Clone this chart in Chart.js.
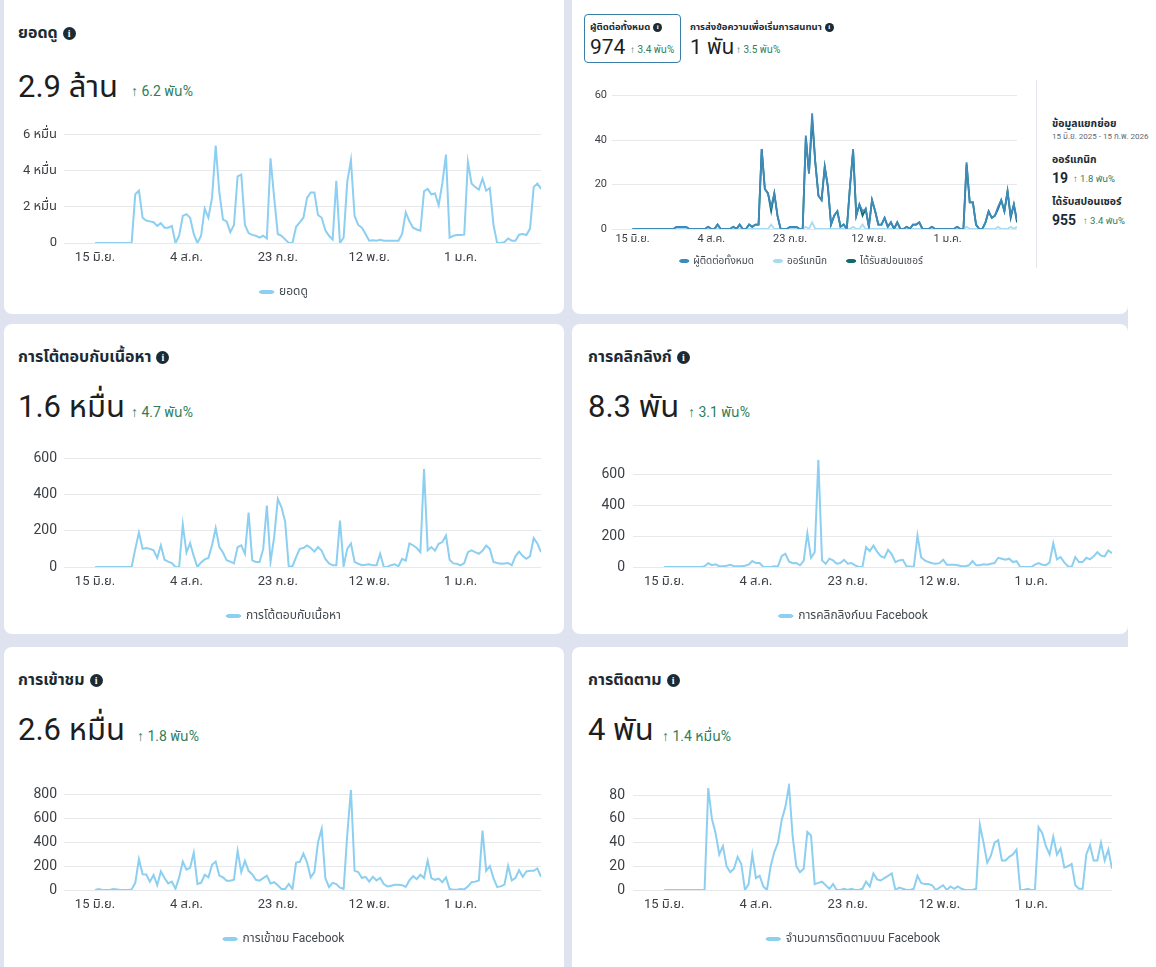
<!DOCTYPE html>
<html lang="th">
<head>
<meta charset="utf-8">
<title>Insights</title>
<script src="https://cdn.jsdelivr.net/npm/chart.js@4.4.1/dist/chart.umd.min.js"></script>
<style>
  html, body { margin: 0; padding: 0; }
  body { width: 1156px; height: 967px; position: relative; overflow: hidden; background: #dfe3ef;
         font-family: Roboto, "Noto Sans Thai", "Noto Sans", sans-serif; color: #1c2b33; }
  .card { position: absolute; background: #fff; border-radius: 8px; }
  .strip { position: absolute; left: 1128px; top: 0; width: 28px; height: 967px; background: #fff; }
  .t { position: absolute; white-space: nowrap; }
  .title { font-size: 16px; font-weight: 700; line-height: 22px; }
  .big { font-size: 31px; line-height: 36px; color: #1c1e21; }
  .up { font-size: 14px; line-height: 18px; color: #2e7d5c; }
  .i { display: inline-block; width: 13px; height: 13px; border-radius: 50%; background: #1c2b33; color: #fff;
       font: bold 10px/13px Georgia, serif; text-align: center; margin-left: 5px; vertical-align: 1px; }
  .sm .i { width: 9px; height: 9px; font-size: 7px; line-height: 9px; margin-left: 3px; }
  .tile { position: absolute; left: 584px; top: 14px; width: 97px; height: 49px; box-sizing: border-box;
          border: 1px solid #3b7ea8; border-radius: 4px; }
  .stitle { font-size: 9.5px; font-weight: 700; line-height: 14px; }
  .snum { font-size: 21px; line-height: 24px; color: #1c1e21; }
  .sup { font-size: 10px; line-height: 12px; color: #2e7d5c; }
  .divider { position: absolute; left: 1036px; top: 80px; width: 1px; height: 188px; background: #e4e6eb; }
  .bd { font-size: 10.5px; font-weight: 700; line-height: 14px; }
  .bdate { font-size: 8px; line-height: 12px; color: #65676b; }
  .bnum { font-size: 14px; font-weight: 700; line-height: 18px; }
  .bup { font-size: 9.5px; line-height: 12px; color: #2e7d5c; }
  canvas { position: absolute; }
</style>
</head>
<body>
<div class="card" style="left:4px;top:-10px;width:560px;height:324px"></div>
<div class="card" style="left:572px;top:-10px;width:556px;height:324px"></div>
<div class="card" style="left:4px;top:324px;width:560px;height:310px"></div>
<div class="card" style="left:572px;top:324px;width:556px;height:310px"></div>
<div class="card" style="left:4px;top:647px;width:560px;height:330px"></div>
<div class="card" style="left:572px;top:647px;width:600px;height:330px"></div>
<div class="strip"></div>

<!-- top left -->
<div class="t title" style="left:18px;top:22px">ยอดดู<span class="i">i</span></div>
<div class="t big" style="left:18px;top:69px">2.9 ล้าน</div>
<div class="t up" style="left:131px;top:82px">↑ 6.2 พัน%</div>

<!-- top right -->
<div class="tile"></div>
<div class="t stitle sm" style="left:590px;top:20px">ผู้ติดต่อทั้งหมด<span class="i">i</span></div>
<div class="t snum" style="left:590px;top:35px">974</div>
<div class="t sup" style="left:630px;top:44px">↑ 3.4 พัน%</div>
<div class="t stitle sm" style="left:690px;top:20px">การส่งข้อความเพื่อเริ่มการสนทนา<span class="i">i</span></div>
<div class="t snum" style="left:690px;top:35px">1 พัน</div>
<div class="t sup" style="left:736px;top:44px">↑ 3.5 พัน%</div>
<div class="divider"></div>
<div class="t bd" style="left:1052px;top:117px">ข้อมูลแยกย่อย</div>
<div class="t bdate" style="left:1052px;top:131px">15 มิ.ย. 2025 - 15 ก.พ. 2026</div>
<div class="t bd" style="left:1052px;top:153px">ออร์แกนิก</div>
<div class="t bnum" style="left:1052px;top:169px">19</div>
<div class="t bup" style="left:1073px;top:173px">↑ 1.8 พัน%</div>
<div class="t bd" style="left:1052px;top:195px">ได้รับสปอนเซอร์</div>
<div class="t bnum" style="left:1052px;top:211px">955</div>
<div class="t bup" style="left:1083px;top:215px">↑ 3.4 พัน%</div>

<!-- middle -->
<div class="t title" style="left:18px;top:346px">การโต้ตอบกับเนื้อหา<span class="i">i</span></div>
<div class="t big" style="left:18px;top:389px">1.6 หมื่น</div>
<div class="t up" style="left:131px;top:403px">↑ 4.7 พัน%</div>
<div class="t title" style="left:588px;top:346px">การคลิกลิงก์<span class="i">i</span></div>
<div class="t big" style="left:588px;top:389px">8.3 พัน</div>
<div class="t up" style="left:688px;top:403px">↑ 3.1 พัน%</div>

<!-- bottom -->
<div class="t title" style="left:18px;top:669px">การเข้าชม<span class="i">i</span></div>
<div class="t big" style="left:18px;top:712px">2.6 หมื่น</div>
<div class="t up" style="left:137px;top:727px">↑ 1.8 พัน%</div>
<div class="t title" style="left:588px;top:669px">การติดตาม<span class="i">i</span></div>
<div class="t big" style="left:588px;top:712px">4 พัน</div>
<div class="t up" style="left:662px;top:727px">↑ 1.4 หมื่น%</div>

<script>
// one point every 2 days, 15 Jun 2025 (day 0) .. 14 Feb 2026 (day 244)
const days = Array.from({ length: 123 }, (_, i) => i * 2);
const xTickDays = [0, 50, 100, 150, 200];
const xTickLabels = ['15 มิ.ย.', '4 ส.ค.', '23 ก.ย.', '12 พ.ย.', '1 ม.ค.'];

const views = [
  0, 0, 0, 0, 0, 0, 0, 0, 0, 0, 0,
  27000, 29000, 14000, 12500, 12000, 11500, 9500, 11000, 8500, 8500,
  9500, 0, 4000, 15000, 16000, 14000, 5000, 0, 4000, 19000,
  14000, 25000, 54000, 28000, 13000, 12000, 6000, 10000, 37000, 38000,
  10000, 5500, 4500, 4000, 3000, 4000, 2500, 47000, 25000, 5000,
  4000, 2000, 0, 0, 9000, 11500, 14000, 25000, 28000, 28000,
  15500, 14000, 7000, 4000, 2000, 34500, 0, 3000, 34000, 46000,
  15000, 10000, 8500, 5000, 1300, 1500, 1300, 1800, 1300, 1300,
  1300, 1300, 1300, 5000, 17000, 12000, 8500, 7500, 6800, 28700,
  30000, 27000, 27500, 21000, 33000, 49000, 3000, 4000, 4400, 4400,
  4600, 45000, 33000, 31000, 29600, 35600, 29000, 30500, 10000, 0,
  0, 500, 2500, 1300, 1300, 4600, 5000, 4400, 8000, 31000,
  33000, 30000
];

const contactsTotal = [
  0, 0, 0, 0, 0, 0, 0, 0, 0, 0, 0, 0, 0, 0,
  1, 1, 1, 1, 0, 0, 0, 0, 0, 0,
  1, 0, 0, 2, 0, 0, 0, 0, 1, 0,
  2, 0, 0, 2, 1, 2, 2, 36, 18, 16,
  10, 16, 6, 0, 0, 0, 1, 1, 1, 0,
  0, 42, 25, 52, 30, 15, 13, 28, 19, 2,
  6, 8, 1, 2, 0, 19, 36, 6, 11, 8,
  9, 1, 13, 8, 2, 2, 5, 1, 3, 0,
  3, 0, 0, 1, 0, 2, 2, 3, 0, 0,
  0, 1, 0, 0, 0, 0, 0, 0, 0, 1,
  0, 0, 30, 12, 12, 2, 0, 0, 3, 8,
  5, 6, 10, 13, 8, 17, 6, 11, 4
];
const contactsOrganic = [
  0, 0, 0, 0, 0, 0, 0, 0, 0, 0, 0, 0, 0, 0,
  0, 0, 0, 0, 0, 0, 0, 0, 0, 0,
  0, 0, 0, 0, 0, 0, 0, 0, 0, 0,
  0, 0, 0, 0, 0, 0, 0, 0, 0, 0,
  2, 0, 0, 0, 0, 0, 0, 0, 0, 0,
  0, 1, 0, 3, 0, 0, 0, 0, 0, 0,
  0, 0, 0, 0, 0, 0, 1, 0, 0, 2,
  0, 0, 0, 0, 0, 0, 0, 0, 0, 0,
  0, 0, 0, 0, 0, 0, 0, 0, 0, 0,
  0, 0, 0, 0, 0, 0, 0, 0, 0, 0,
  0, 0, 1, 0, 0, 0, 0, 0, 0, 0,
  0, 0, 1, 0, 0, 0, 1, 0, 1
];
const contactsSponsored = [
  0, 0, 0, 0, 0, 0, 0, 0, 0, 0, 0, 0, 0, 0,
  1, 1, 1, 1, 0, 0, 0, 0, 0, 0,
  1, 0, 0, 2, 0, 0, 0, 0, 1, 0,
  2, 0, 0, 2, 1, 2, 2, 36, 18, 16,
  8, 16, 6, 0, 0, 0, 1, 1, 1, 0,
  0, 41, 25, 49, 30, 15, 13, 28, 19, 2,
  6, 8, 1, 2, 0, 19, 35, 6, 11, 6,
  9, 1, 13, 8, 2, 2, 5, 1, 3, 0,
  3, 0, 0, 1, 0, 2, 2, 3, 0, 0,
  0, 1, 0, 0, 0, 0, 0, 0, 0, 1,
  0, 0, 29, 12, 12, 2, 0, 0, 3, 8,
  5, 6, 9, 13, 8, 17, 5, 11, 3
];

const engagement = [
  0, 0, 0, 0, 0, 0, 0, 0, 0, 0, 0,
  100, 190, 100, 105, 100, 92, 50, 120, 40, 30,
  22, 0, 0, 235, 80, 132, 60, 0, 25, 42,
  50, 120, 215, 110, 80, 37, 30, 20, 110, 120,
  73, 300, 37, 28, 28, 100, 340, 28, 165, 376,
  330, 250, 0, 5, 55, 100, 105, 119, 105, 85,
  110, 90, 45, 20, 9, 9, 257, 5, 100, 130,
  28, 18, 10, 12, 15, 9, 9, 73, 0, 2,
  10, 15, 4, 45, 35, 130, 120, 105, 82, 541,
  92, 110, 90, 128, 138, 174, 40, 20, 18, 9,
  22, 82, 92, 82, 73, 90, 119, 100, 28, 22,
  18, 20, 22, 9, 59, 85, 60, 45, 60, 160,
  130, 82
];

const linkClicks = [
  0, 0, 0, 0, 0, 0, 0, 0, 0, 0, 0,
  5, 25, 12, 17, 5, 5, 8, 15, 5, 5,
  5, 8, 15, 39, 26, 26, 0, 0, 0, 5,
  4, 70, 86, 36, 25, 26, 11, 40, 219, 60,
  96, 697, 43, 21, 54, 43, 21, 26, 47, 21,
  26, 11, 0, 0, 129, 103, 139, 100, 70, 60,
  111, 83, 32, 43, 47, 5, 4, 0, 204, 64,
  43, 32, 25, 21, 25, 47, 15, 15, 15, 11,
  5, 5, 11, 39, 11, 11, 18, 15, 21, 26,
  60, 54, 47, 54, 32, 38, 0, 0, 0, 0,
  15, 26, 15, 11, 30, 154, 50, 65, 30, 5,
  0, 64, 32, 32, 60, 50, 69, 96, 75, 69,
  107, 90
];

const visits = [
  0, 8, 0, 0, 0, 8, 5, 0, 0, 0, 5,
  60, 257, 132, 130, 70, 125, 40, 155, 100, 55,
  70, 10, 105, 237, 170, 185, 312, 50, 60, 127,
  105, 210, 237, 120, 105, 77, 77, 85, 326, 150,
  243, 160, 130, 85, 78, 99, 120, 55, 65, 40,
  8, 8, 50, 8, 229, 235, 304, 230, 105, 150,
  400, 510, 100, 25, 60, 50, 20, 8, 464, 836,
  160, 150, 100, 110, 70, 110, 80, 100, 50, 30,
  35, 44, 44, 40, 25, 80, 115, 91, 127, 100,
  243, 100, 85, 95, 65, 105, 8, 3, 3, 8,
  5, 28, 65, 70, 80, 497, 160, 200, 99, 25,
  30, 45, 201, 80, 100, 165, 110, 155, 160, 160,
  180, 110
];

const follows = [
  0, 0, 0, 0, 0, 0, 0, 0, 0, 0, 0,
  0, 86, 60, 48, 30, 37, 20, 15, 18, 28,
  22, 0, 5, 30, 10, 12, 3, 0, 20, 32,
  40, 59, 70, 88, 45, 20, 15, 18, 49, 46,
  5, 6, 7, 4, 1, 5, 0, 0, 1, 0,
  1, 0, 0, 1, 7, 3, 14, 9, 8, 10,
  12, 14, 0, 2, 1, 0, 0, 1, 12, 6,
  5, 5, 4, 0, 2, 4, 0, 3, 1, 3,
  1, 0, 0, 0, 1, 55, 40, 23, 29, 40,
  42, 25, 25, 28, 30, 34, 0, 0, 1, 0,
  0, 53, 48, 37, 30, 45, 30, 35, 19, 20,
  22, 4, 1, 1, 30, 38, 25, 25, 40, 25,
  34, 18
];

const FONT = 'Roboto, "Noto Sans Thai", "Noto Sans", sans-serif';
const LIGHT = '#8ccff0';

function pts(values) {
  return values.map((v, i) => ({ x: days[i], y: v }));
}

// moves the legend box up/down after layout (used where legend items need wide gaps)
const legendNudge = {
  id: 'legendNudge',
  afterLayout(chart, args, opts) {
    const l = chart.legend;
    if (l && opts.dy) { l.top += opts.dy; l.bottom += opts.dy; }
  }
};

function makeChart(s) {
  const c = document.createElement('canvas');
  c.width = s.w; c.height = s.h;
  c.style.left = s.left + 'px'; c.style.top = s.top + 'px';
  c.style.width = s.w + 'px'; c.style.height = s.h + 'px';
  document.body.appendChild(c);
  const fs = s.font || 14;
  return new Chart(c, {
    type: 'line',
    data: {
      datasets: s.series.map(d => ({
        label: d.label, data: pts(d.values), yAxisID: 'y',
        borderColor: d.color, backgroundColor: d.color,
        borderWidth: d.width || 2, pointRadius: 0, tension: 0, fill: false
      }))
    },
    plugins: [legendNudge],
    options: {
      responsive: false, animation: false, events: [],
      layout: { padding: { left: 0, right: 0, top: s.padT, bottom: 2 } },
      plugins: {
        tooltip: { enabled: false },
        legendNudge: { dy: s.legDy || 0 },
        legend: {
          position: 'bottom',
          labels: {
            boxWidth: s.boxW || 13, boxHeight: 2, useBorderRadius: true, borderRadius: 2,
            padding: s.legPad || 10, color: '#444950', font: { size: s.legFont || 12, family: FONT }
          }
        }
      },
      scales: {
        x: {
          type: 'linear', min: s.xMin, max: 244,
          afterBuildTicks: a => { a.ticks = xTickDays.map(v => ({ value: v })); },
          afterFit: a => { a.height = s.xh; },
          grid: { display: false, drawTicks: false }, border: { display: false },
          ticks: {
            callback: (v, i) => xTickLabels[i], autoSkip: false, maxRotation: 0,
            padding: s.xPad, color: '#3b3f44', font: { size: s.xFont || 13, family: FONT }
          }
        },
        y: {
          position: 'left', min: 0, max: s.yMax,
          afterBuildTicks: a => { a.ticks = s.yTicks.map(v => ({ value: v })); },
          afterFit: a => { a.width = s.yw; },
          grid: { color: '#e6e8ec', drawTicks: false }, border: { display: false },
          ticks: {
            callback: (v, i) => s.yLabels[i], padding: s.yPad,
            color: '#3b3f44', font: { size: fs, family: FONT }
          }
        },
        // empty right-hand spacer so the legend is centred on the card
        spacer: {
          type: 'linear', position: 'right', display: true,
          grid: { display: false }, border: { display: false }, ticks: { display: false },
          afterFit: a => { a.width = s.rw; }
        }
      }
    }
  });
}

const viewTicks = [0, 20000, 40000, 60000];
const viewTickLabels = ['0', '2 หมื่น', '4 หมื่น', '6 หมื่น'];
const contactTicks = [0, 20, 40, 60];
const hundredTicks = [0, 200, 400, 600];
const visitTicks = [0, 200, 400, 600, 800];
const followTicks = [0, 20, 40, 60, 80];

// top left: views
makeChart({
  left: 5, top: 120, w: 558, h: 190, padT: 14, yw: 59, rw: 22, xh: 33,
  xMin: -17, xPad: 7, yPad: 7, yMax: 60000, yTicks: viewTicks, yLabels: viewTickLabels, font: 13,
  series: [{ label: 'ยอดดู', values: views, color: LIGHT }]
});

// top right: contacts
makeChart({
  left: 576, top: 84, w: 451, h: 207, padT: 10, yw: 36, rw: 10, xh: 20,
  xMin: -13, xPad: 4, yPad: 5, yMax: 60, yTicks: contactTicks, yLabels: contactTicks.map(String),
  font: 11, xFont: 11, legFont: 10, legPad: 20, legDy: -13, boxW: 8,
  series: [
    { label: 'ผู้ติดต่อทั้งหมด', values: contactsTotal, color: '#3d8abd', width: 1.8 },
    { label: 'ออร์แกนิก', values: contactsOrganic, color: '#a8dbf2', width: 1.8 },
    { label: 'ได้รับสปอนเซอร์', values: contactsSponsored, color: '#0d6b6e', width: 1.8 }
  ]
});

// middle left: content interactions
makeChart({
  left: 5, top: 443, w: 558, h: 191, padT: 14, yw: 59, rw: 22, xh: 33,
  xMin: -17, xPad: 7, yPad: 7, yMax: 600, yTicks: hundredTicks, yLabels: hundredTicks.map(String),
  series: [{ label: 'การโต้ตอบกับเนื้อหา', values: engagement, color: LIGHT }]
});

// middle right: link clicks
makeChart({
  left: 575, top: 443, w: 557, h: 191, padT: 14, yw: 58, rw: 20, xh: 33,
  xMin: -17, xPad: 7, yPad: 8, yMax: 700, yTicks: hundredTicks, yLabels: hundredTicks.map(String),
  series: [{ label: 'การคลิกลิงก์บน Facebook', values: linkClicks, color: LIGHT }]
});

// bottom left: visits
makeChart({
  left: 5, top: 774, w: 558, h: 183, padT: 14, yw: 59, rw: 22, xh: 33,
  xMin: -17, xPad: 7, yPad: 7, yMax: 840, yTicks: visitTicks, yLabels: visitTicks.map(String),
  series: [{ label: 'การเข้าชม Facebook', values: visits, color: LIGHT }]
});

// bottom right: follows
makeChart({
  left: 575, top: 767, w: 557, h: 190, padT: 14, yw: 58, rw: 20, xh: 33,
  xMin: -17, xPad: 7, yPad: 8, yMax: 90, yTicks: followTicks, yLabels: followTicks.map(String),
  series: [{ label: 'จำนวนการติดตามบน Facebook', values: follows, color: LIGHT }]
});
</script>
</body>
</html>
